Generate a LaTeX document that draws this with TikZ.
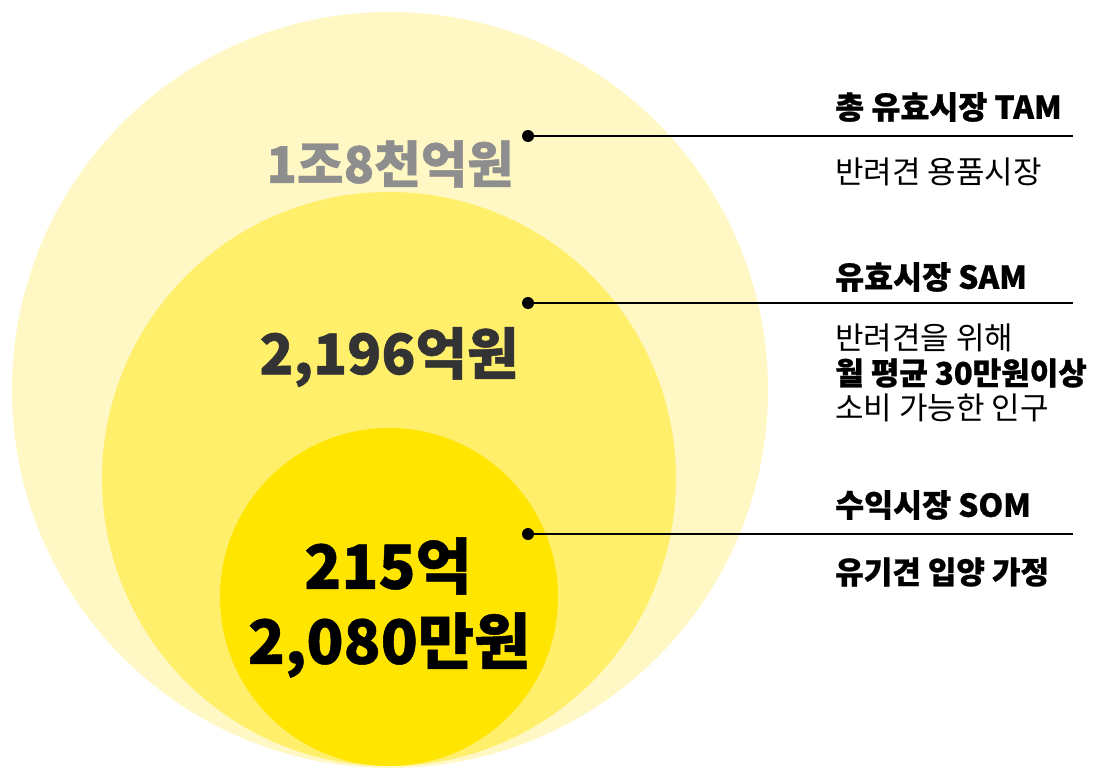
\documentclass[tikz,border=0pt]{standalone}
\usepackage{fontspec}
\setmainfont{Noto Sans CJK KR}[BoldFeatures={FakeBold=0.8}]
\usepackage{xcolor}
\usetikzlibrary{positioning}
\definecolor{tamfill}{HTML}{FFF8C4}
\definecolor{samfill}{HTML}{FFEF6B}
\definecolor{somfill}{HTML}{FFE500}
\definecolor{tamtext}{HTML}{8E8E8E}
\definecolor{samtext}{HTML}{333333}
\tikzset{
  dot/.style={circle,fill,inner sep=0pt,minimum size=12pt},
  lead/.style={line width=1.8pt},
  title/.style={anchor=west,inner sep=0pt,font=\fontsize{31.5}{36}\selectfont\bfseries},
  note/.style={anchor=west,inner sep=0pt,align=left,font=\fontsize{31}{35}\selectfont},
  value/.style={inner sep=0pt,font=\bfseries}
}
\tikzstyle{ring} = [draw=none]

\begin{document}
\begin{tikzpicture}[x=1pt,y=-1pt]
\useasboundingbox (0,0) rectangle (1110,781);
% market circles
\fill[ring,tamfill] (390,390) circle (378);
\fill[ring,samfill] (389,479) circle (287);
\fill[ring,somfill] (389,597) circle (169);
% values
\node[value,tamtext,font=\fontsize{50.5}{56}\selectfont\bfseries] (tamval) at (390,164) {1조8천억원};
\node[value,samtext,font=\fontsize{56}{66}\selectfont\bfseries] (samval) at (389,357) {2,196억원};
\node[value,black,font=\fontsize{61}{70}\selectfont\bfseries] (somval) at (388,566) {215억};
\node[value,black,font=\fontsize{61}{70}\selectfont\bfseries] (somval2) at (389,645) {2,080만원};
% leaders
\node[dot] (tamdot) at (528,136) {};
\node[dot] (samdot) at (528,303) {};
\node[dot] (somdot) at (528,534) {};
\coordinate (tamend) at (1073,136);
\coordinate (samend) at (1073,303);
\coordinate (somend) at (1073,534);
\draw[lead] (tamdot.center) -- (tamend);
\draw[lead] (samdot.center) -- (samend);
\draw[lead] (somdot.center) -- (somend);
% labels
\node[title] (tamtitle) at (835,107) {총 유효시장 TAM};
\node[note] (tamnote) at (835,172) {반려견 용품시장};
\node[title] (samtitle) at (835,277) {유효시장 SAM};
\node[note] (samnote) at (835,373) {반려견을 위해\\\textbf{월 평균 30만원이상}\\소비 가능한 인구};
\node[title] (somtitle) at (835,505) {수익시장 SOM};
\node[note,font=\fontsize{31}{35}\selectfont\bfseries] (somnote) at (835,572) {유기견 입양 가정};
\end{tikzpicture}
\end{document}
